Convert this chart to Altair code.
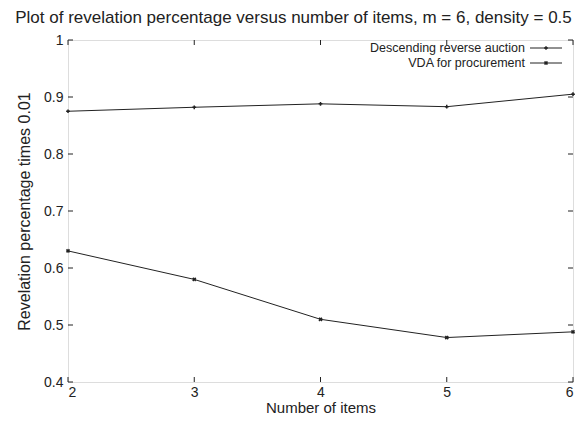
import altair as alt
import pandas as pd

items = [2, 3, 4, 5, 6]
descending = [0.875, 0.882, 0.888, 0.883, 0.905]
vda = [0.630, 0.580, 0.510, 0.478, 0.488]
series_names = ["Descending reverse auction", "VDA for procurement"]
y_ticks = [0.4, 0.5, 0.6, 0.7, 0.8, 0.9, 1.0]
x_ticks = [2, 3, 4, 5, 6]

W, H = 505, 342
FONT = "Liberation Sans"

df = pd.DataFrame({
    "items": items * 2,
    "value": descending + vda,
    "series": [series_names[0]] * 5 + [series_names[1]] * 5,
})

xs = alt.Scale(domain=[2, 6], nice=False)
ys = alt.Scale(domain=[0.4, 1.0], nice=False)

x_axis = alt.Axis(values=x_ticks, format="d", ticks=False, grid=False, domain=False,
                  labelFontSize=14, labelPadding=3, title="Number of items",
                  titleFontSize=15, titleFontWeight="normal", titlePadding=1,
                  labelFont=FONT, titleFont=FONT, labelColor="#222", titleColor="#222")
y_axis = alt.Axis(values=y_ticks, format="~g", ticks=False, grid=False, domain=False,
                  labelFontSize=14, labelPadding=5, title="Revelation percentage times 0.01",
                  titleFontSize=16, titleFontWeight="normal", titlePadding=11,
                  labelFont=FONT, titleFont=FONT, labelColor="#222", titleColor="#222")

base = alt.Chart(df)
lines = base.mark_line(color="#222", strokeWidth=1).encode(
    x=alt.X("items:Q", scale=xs, axis=x_axis),
    y=alt.Y("value:Q", scale=ys, axis=y_axis),
    detail="series:N",
)
pts1 = alt.Chart(df[df.series == series_names[0]]).mark_point(
    shape="cross", filled=True, size=14, color="#222", opacity=1).encode(
    x=alt.X("items:Q", scale=xs), y=alt.Y("value:Q", scale=ys))
pts2 = alt.Chart(df[df.series == series_names[1]]).mark_point(
    shape="cross", filled=True, size=18, angle=45, color="#222", opacity=1).encode(
    x=alt.X("items:Q", scale=xs), y=alt.Y("value:Q", scale=ys))

ytdf = pd.DataFrame({"t": y_ticks})
xtdf = pd.DataFrame({"t": x_ticks})
yt_left = alt.Chart(ytdf).mark_rule(color="#222", strokeWidth=1).encode(
    y=alt.Y("t:Q", scale=ys), x=alt.value(0), x2=alt.value(5))
yt_right = alt.Chart(ytdf).mark_rule(color="#222", strokeWidth=1).encode(
    y=alt.Y("t:Q", scale=ys), x=alt.value(W), x2=alt.value(W - 5))
xt_bot = alt.Chart(xtdf).mark_rule(color="#222", strokeWidth=1).encode(
    x=alt.X("t:Q", scale=xs), y=alt.value(H), y2=alt.value(H - 5))
xt_top = alt.Chart(xtdf).mark_rule(color="#222", strokeWidth=1).encode(
    x=alt.X("t:Q", scale=xs), y=alt.value(0), y2=alt.value(5))

# legend (labels right-aligned, sample line to the right)
leg = pd.DataFrame({"name": series_names, "row": [0, 1]})
LX, LY1, LY2 = 457, 8, 23
leg_text1 = alt.Chart(leg[leg.row == 0]).mark_text(
    align="right", baseline="middle", fontSize=12.5, font=FONT, color="#222").encode(
    text="name:N", x=alt.value(LX), y=alt.value(LY1))
leg_text2 = alt.Chart(leg[leg.row == 1]).mark_text(
    align="right", baseline="middle", fontSize=12.5, font=FONT, color="#222").encode(
    text="name:N", x=alt.value(LX), y=alt.value(LY2))
leg_line1 = alt.Chart(leg[leg.row == 0]).mark_rule(color="#222", strokeWidth=1).encode(
    x=alt.value(LX + 5), x2=alt.value(LX + 37), y=alt.value(LY1))
leg_line2 = alt.Chart(leg[leg.row == 1]).mark_rule(color="#222", strokeWidth=1).encode(
    x=alt.value(LX + 5), x2=alt.value(LX + 37), y=alt.value(LY2))
leg_pt1 = alt.Chart(leg[leg.row == 0]).mark_point(
    shape="cross", filled=True, size=14, color="#222", opacity=1).encode(
    x=alt.value(LX + 21), y=alt.value(LY1))
leg_pt2 = alt.Chart(leg[leg.row == 1]).mark_point(
    shape="cross", filled=True, size=18, angle=45, color="#222", opacity=1).encode(
    x=alt.value(LX + 21), y=alt.value(LY2))

chart = alt.layer(
    lines, pts1, pts2, yt_left, yt_right, xt_bot, xt_top,
    leg_text1, leg_text2, leg_line1, leg_line2, leg_pt1, leg_pt2,
).properties(
    width=W, height=H,
    title=alt.TitleParams(
        "Plot of revelation percentage versus number of items, m = 6, density = 0.5",
        fontSize=17, font=FONT, fontWeight="normal", color="#222", offset=6, dx=-27),
    autosize=alt.AutoSizeParams(type="none"),
    padding={"left": 60, "top": 32, "right": 5, "bottom": 33},
).configure_view(stroke="#111", strokeWidth=1.5).configure(background="white")

chart.save("out.html", embed_options={"renderer": "svg", "actions": False})
